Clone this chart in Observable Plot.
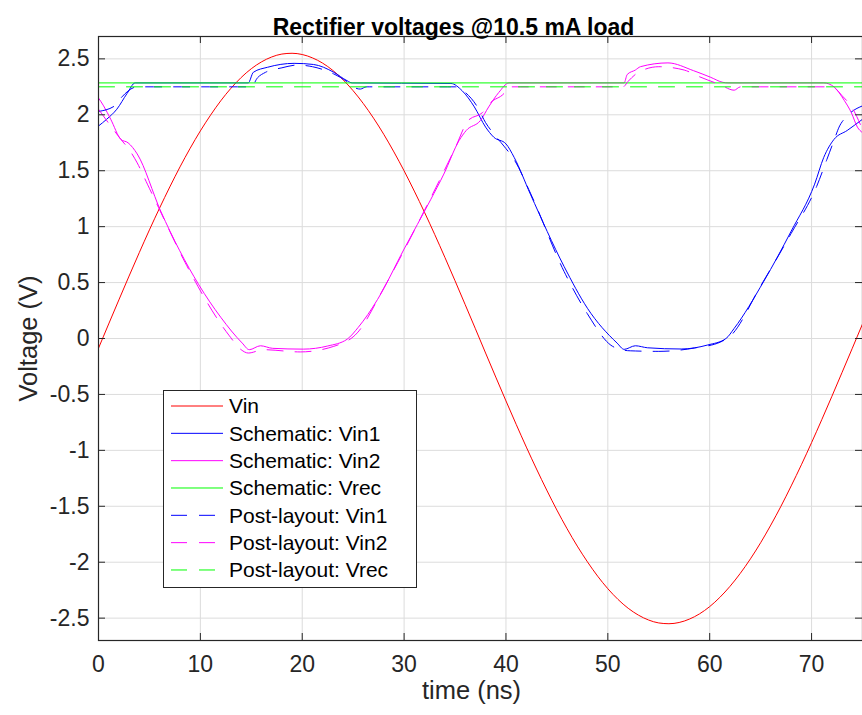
<!DOCTYPE html>
<html>
<head>
<meta charset="utf-8">
<script src="https://cdn.jsdelivr.net/npm/d3@7"></script>
<script src="https://cdn.jsdelivr.net/npm/@observablehq/plot@0.6"></script>
<style>
  html, body { margin: 0; padding: 0; background: #fff; }
  #wrap { position: relative; width: 862px; height: 715px; font-family: "Liberation Sans", Arial, sans-serif; }
  #legend { position: absolute; left: 163px; top: 390px; }
</style>
</head>
<body>
<div id="wrap"><div id="chart"></div><div id="legend"></div></div>
<script>
// ---------- data ----------
const titleText = "Rectifier voltages @10.5 mA load";
const xLabel = "time (ns)";
const yLabel = "Voltage (V)";
const xTicks = [0, 10, 20, 30, 40, 50, 60, 70];
const yTicks = [-2.5, -2, -1.5, -1, -0.5, 0, 0.5, 1, 1.5, 2, 2.5];

const seriesNames = ["Vin", "Schematic: Vin1", "Schematic: Vin2", "Schematic: Vrec",
                     "Post-layout: Vin1", "Post-layout: Vin2", "Post-layout: Vrec"];

const vinT = [0,1,2,3,4,5,6,7,8,9,10,11,12,13,14,15,16,17,18,19,20,21,22,23,24,25,26,27,28,29,30,
  31,32,33,34,35,36,37,38,39,40,41,42,43,44,45,46,47,48,49,50,51,52,53,54,55,56,57,58,59,60,
  61,62,63,64,65,66,67,68,69,70,71,72,73,74,75];
const vinV = [-0.087,0.130,0.345,0.558,0.767,0.971,1.167,1.355,1.534,1.701,1.856,1.997,2.125,2.237,2.333,
  2.412,2.473,2.517,2.543,2.550,2.539,2.509,2.462,2.397,2.314,2.215,2.100,1.970,1.826,1.668,1.499,
  1.318,1.129,0.931,0.726,0.516,0.302,0.087,-0.130,-0.345,-0.558,-0.767,-0.971,-1.167,-1.355,-1.534,
  -1.701,-1.856,-1.997,-2.125,-2.237,-2.333,-2.412,-2.473,-2.517,-2.543,-2.550,-2.539,-2.509,-2.462,
  -2.397,-2.314,-2.215,-2.100,-1.970,-1.826,-1.668,-1.499,-1.318,-1.129,-0.931,-0.726,-0.516,-0.302,
  -0.087,0.130];

const schVin1T = [0,0.8,1.8,2.8,3.6,14.7,15.2,16.6,19.2,21.1,23.1,24.4,24.9,34.6,35.7,36.9,38,38.8,40,40.8,
  42.4,45.7,48,50.9,51.6,52.7,53.9,57.2,59.8,61.6,62.4,65.3,68,70.3,71.2,72.2,73.5,75];
const schVin1V = [1.90,1.96,2.05,2.19,2.285,2.285,2.38,2.425,2.46,2.45,2.38,2.305,2.285,2.28,2.215,2.07,1.89,1.80,1.74,1.62,
  1.29,0.645,0.27,-0.04,-0.097,-0.065,-0.083,-0.094,-0.058,0.0,0.09,0.51,0.96,1.38,1.62,1.78,1.86,1.96];

const schVin2T = [0,0.5,1.2,2.2,2.9,3.8,6.1,9.85,12,14.1,14.8,15.9,17.1,20.1,22.5,24.4,25.5,27.4,30,32.6,
  33.9,35.4,36.1,37.5,38.3,39.3,40.3,51.6,51.9,52.7,53.2,55.9,58.4,60.1,61.3,61.8,71.2,72.2,73.2,73.9,74.5,75];
const schVin2V = [2.15,2.08,1.96,1.78,1.75,1.65,1.14,0.48,0.19,-0.04,-0.10,-0.065,-0.088,-0.095,-0.067,-0.007,0.1,0.35,0.8,1.24,
  1.47,1.77,1.86,1.95,2.07,2.20,2.285,2.285,2.36,2.40,2.43,2.464,2.395,2.335,2.29,2.285,2.285,2.25,2.13,2.02,1.89,1.84];

const schVrecT = [0, 75];
const schVrecV = [2.285, 2.285];

const postVin1T = [0,1.6,2.3,3.8,15,15.6,16.4,18,19.5,21,23.1,24.5,25.2,25.7,26.3,35,36,37.2,38,38.8,39.8,40.8,
  42.4,45.7,48,50.3,51.3,52.2,55,58.5,61.1,62,65,68,70.5,71.5,72.2,72.7,73.5,75];
const postVin1V = [2.03,2.08,2.16,2.25,2.25,2.33,2.38,2.42,2.445,2.43,2.365,2.29,2.24,2.23,2.25,2.25,2.2,2.07,1.93,1.83,1.72,1.6,
  1.3,0.6,0.22,-0.06,-0.1,-0.11,-0.115,-0.085,-0.03,0.02,0.47,0.94,1.36,1.6,1.77,1.89,1.99,2.08];

const postVin2T = [0,1.2,2.2,3,3.8,4.8,5.9,8.5,12.8,14,14.7,16.2,19.8,23.1,25.4,28,32.3,35,36.3,37.7,38.5,39.8,40.3,
  51.5,52,53,55,57.5,59,61,62.4,63,72,73,74,75];
const postVin2V = [2.05,1.9,1.78,1.69,1.57,1.38,1.17,0.68,0.03,-0.1,-0.13,-0.10,-0.12,-0.07,0.05,0.45,1.2,1.7,1.95,2.02,2.11,2.19,2.25,
  2.25,2.3,2.38,2.43,2.4,2.34,2.27,2.22,2.25,2.25,2.17,2.06,1.87];

const postVrecT = [0, 75];
const postVrecV = [2.25, 2.25];

// ---------- styles ----------
const seriesData = [[vinT, vinV], [schVin1T, schVin1V], [schVin2T, schVin2V], [schVrecT, schVrecV],
                    [postVin1T, postVin1V], [postVin2T, postVin2V], [postVrecT, postVrecV]];
const seriesColor = ["#ff0000", "#0000ff", "#ff00ff", "#00ff00", "#0000ff", "#ff00ff", "#00ff00"];
const seriesDash = [null, null, null, null, "16,12", "16,12", "16,12"];
const FONT = "Liberation Sans, Arial, Helvetica, sans-serif";
const INK = "#262626";

const rows = seriesData.map(([ts, vs], i) => ts.map((t, j) => ({t, v: vs[j], s: seriesNames[i]})));

const W = 862, H = 715, mL = 98, mR = 0, mT = 36, mB = 75;
const frameW = W - mL - mR, frameH = H - mT - mB, tickLen = 7;

const chart = Plot.plot({
  width: W, height: H,
  marginLeft: mL, marginRight: mR, marginTop: mT, marginBottom: mB,
  style: {fontFamily: FONT, color: INK, background: "#fff", overflow: "visible"},
  x: {domain: [0, 75]},
  y: {domain: [-2.7, 2.7]},
  marks: [
    Plot.gridX({ticks: xTicks, stroke: "#dcdcdc", strokeOpacity: 1}),
    Plot.gridY({ticks: yTicks, stroke: "#dcdcdc", strokeOpacity: 1}),
    ...rows.map((r, i) => Plot.line(r, {
      x: "t", y: "v", stroke: seriesColor[i], strokeWidth: 1,
      strokeDasharray: seriesDash[i] || undefined, curve: "monotone-x", clip: true
    })),
    Plot.tickX(xTicks, {x: d => d, insetTop: frameH - tickLen, stroke: INK}),
    Plot.tickX(xTicks, {x: d => d, insetBottom: frameH - tickLen, stroke: INK}),
    Plot.tickY(yTicks, {y: d => d, insetRight: frameW - tickLen, stroke: INK}),
    Plot.tickY(yTicks, {y: d => d, insetLeft: frameW - tickLen, stroke: INK}),
    Plot.frame({stroke: INK, strokeWidth: 1.2}),
    Plot.axisX({ticks: xTicks, tickSize: 0, tickPadding: 15, fontSize: 23, tickFormat: d => String(d), label: null}),
    Plot.axisY({ticks: yTicks, tickSize: 0, tickPadding: 9, fontSize: 23, tickFormat: d => String(d), label: null}),
    Plot.text([xLabel], {frameAnchor: "bottom", textAnchor: "middle", dx: -9, dy: 58, fontSize: 25.5, fill: INK}),
    Plot.text([yLabel], {frameAnchor: "left", textAnchor: "middle", rotate: -90, dx: -70, fontSize: 25.5, fill: INK}),
    Plot.text([titleText], {frameAnchor: "top", textAnchor: "middle", dx: -27, dy: -18, fontSize: 23, fontWeight: "bold", fill: "#000"})
  ]
});
document.getElementById("chart").appendChild(chart);

// ---------- legend (inside the axes, MATLAB-style box) ----------
const LW = 253, LH = 197, rowH = 27.33, row0 = 16;
const leg = d3.select("#legend").append("svg").attr("width", LW + 1).attr("height", LH + 1)
  .style("font-family", FONT);
leg.append("rect").attr("x", 0.5).attr("y", 0.5).attr("width", LW).attr("height", LH)
  .attr("fill", "#fff").attr("stroke", INK).attr("stroke-width", 1);
seriesNames.forEach((name, i) => {
  const y = row0 + i * rowH;
  leg.append("line").attr("x1", 8).attr("x2", 60).attr("y1", y).attr("y2", y)
    .attr("stroke", seriesColor[i]).attr("stroke-width", 1)
    .attr("stroke-dasharray", seriesDash[i]);
  leg.append("text").attr("x", 66).attr("y", y).attr("dy", "0.35em")
    .attr("font-size", 21).attr("fill", "#000").text(name);
});
</script>
</body>
</html>
